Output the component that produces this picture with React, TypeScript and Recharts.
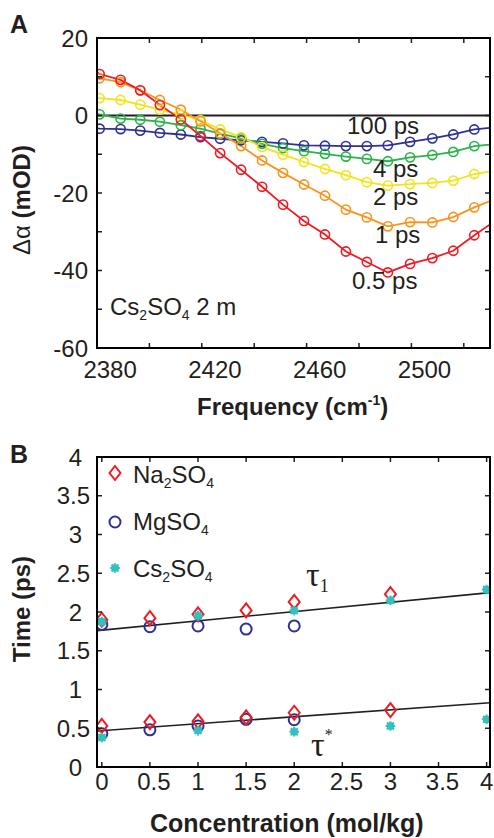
import React from 'react';
import { ComposedChart, Line, Scatter, XAxis, YAxis, ReferenceLine } from 'recharts';

const FONT = '"Liberation Sans", Arial, Helvetica, sans-serif';
const SERIF = '"Liberation Serif", "Times New Roman", serif';
const INK = '#231f20';
const TICK = 5;
// plot box size, identical for both panels
const PLOT_W = 393;
const PLOT_H = 310;

// ---- Panel A : transient spectra, Cs2SO4 2 m ----
const freqs = [2376, 2384, 2391.5, 2399, 2407, 2414.5, 2422, 2430, 2438, 2446, 2454, 2462, 2470, 2478, 2486, 2494.5, 2503, 2511, 2519];
const fitEdges = [2375, 2525];
const freqLabels = [2380, 2420, 2460, 2500];
const freqMarks = [2395, 2415, 2435, 2455, 2475, 2495, 2515];
const deltaTicks = [-60, -50, -40, -30, -20, -10, 0, 10, 20];

const ps05 = [10.7, 9.2, 6.5, 2.7, -1.0, -5.3, -9.7, -14.0, -18.4, -23.0, -27.2, -30.7, -35.1, -37.8, -40.5, -38.3, -36.8, -34.9, -30.9];
const ps1 = [9.6, 8.6, 6.5, 4.0, 1.5, -1.5, -4.6, -7.9, -11.6, -14.8, -17.8, -20.7, -24.3, -26.3, -28.6, -27.5, -27.6, -26.2, -23.7];
const ps2 = [4.5, 4.0, 2.8, 1.5, 0.2, -1.2, -3.6, -5.6, -8.1, -10.1, -12.0, -13.8, -15.4, -17.2, -18.1, -17.7, -17.4, -16.8, -15.1];
const ps4 = [0.3, -0.8, -1.1, -1.6, -2.5, -3.4, -4.7, -5.9, -7.3, -8.4, -9.2, -9.9, -10.6, -11.2, -11.8, -10.8, -10.2, -9.4, -7.9];
const ps100 = [-3.4, -3.5, -3.9, -4.5, -4.9, -5.6, -6.0, -6.4, -6.8, -7.2, -7.7, -7.8, -7.9, -7.9, -7.7, -6.8, -5.9, -4.9, -3.6];
// fit curve values at the plot edges
const edge05 = [11.2, -28.1];
const edge1 = [9.9, -22.1];
const edge2 = [4.6, -14.4];
const edge4 = [0.4, -7.5];
const edge100 = [-3.3, -3.2];

// ---- Panel B : time constants vs concentration ----
const concTicks = [0, 0.5, 1, 1.5, 2, 2.5, 3, 3.5, 4];
const timeTicks = [0, 0.5, 1, 1.5, 2, 2.5, 3, 3.5, 4];
const concNa = [0, 0.5, 1, 1.5, 2, 3];
const naTau1 = [1.9, 1.92, 1.97, 2.02, 2.13, 2.23];
const naTauStar = [0.53, 0.58, 0.59, 0.64, 0.7, 0.735];
const concMg = [0, 0.5, 1, 1.5, 2];
const mgTau1 = [1.84, 1.81, 1.82, 1.78, 1.82];
const mgTauStar = [0.43, 0.48, 0.53, 0.615, 0.61];
const concCs = [0, 1, 2, 3, 4];
const csTau1 = [1.875, 1.95, 2.02, 2.15, 2.29];
const csTauStar = [0.38, 0.47, 0.455, 0.53, 0.615];
const fitConc = [-0.05, 4.035];
const fitTau1 = [1.76, 2.25];
const fitTauStar = [0.465, 0.83];

const RED = '#ed1c24';
const ORANGE = '#f7941d';
const YELLOW = '#f3e31c';
const GREEN = '#2bb34a';
const BLUE = '#2e3192';
const TEAL = '#35c0c0';

const spectrum = (vals: number[], edges: number[]) => [
  { f: fitEdges[0], v: edges[0], fit: true },
  ...freqs.map((f, i) => ({ f, v: vals[i] })),
  { f: fitEdges[1], v: edges[1], fit: true },
];
const pts = (xs: number[], ys: number[]) => xs.map((c, i) => ({ c, t: ys[i] }));

// tick renderers (tickSize 0 so x/y sit on the axis line); they also put the
// inward marks on the opposite side of the box
const mark = { stroke: INK, strokeWidth: 1.5 };
const FreqTick = ({ x, y, payload }: any) =>
  freqLabels.includes(payload.value) ? (
    <text x={x} y={y + 30} textAnchor="middle" fontSize={24} fontFamily={FONT} fill={INK}>{payload.value}</text>
  ) : (
    <g>
      <line x1={x} x2={x} y1={y} y2={y - TICK} {...mark} />
      <line x1={x} x2={x} y1={y - PLOT_H} y2={y - PLOT_H + TICK} {...mark} />
    </g>
  );
const DeltaTick = ({ x, y, payload }: any) => (
  <g>
    <line x1={x} x2={x + TICK} y1={y} y2={y} {...mark} />
    <line x1={x + PLOT_W} x2={x + PLOT_W - TICK} y1={y} y2={y} {...mark} />
    {payload.value % 20 === 0 && (
      <text x={x - 9} y={y + 8.5} textAnchor="end" fontSize={24} fontFamily={FONT} fill={INK}>{payload.value}</text>
    )}
  </g>
);
const TimeTick = ({ x, y, payload }: any) => {
  const v = payload.value;
  return (
    <g>
      <line x1={x} x2={x + TICK} y1={y} y2={y} {...mark} />
      <line x1={x + PLOT_W} x2={x + PLOT_W - TICK} y1={y} y2={y} {...mark} />
      <text x={Number.isInteger(v) ? x - 15 : x - 7} y={y + 8.5} textAnchor="end" fontSize={24} fontFamily={FONT} fill={INK}>{v}</text>
    </g>
  );
};
const ConcTick = ({ x, y, payload }: any) => {
  const v = payload.value;
  return (
    <g>
      <line x1={x} x2={x} y1={y} y2={y - TICK} {...mark} />
      <line x1={x} x2={x} y1={y - PLOT_H} y2={y - PLOT_H + TICK} {...mark} />
      <text x={Number.isInteger(v) ? x : x + 4} y={y + 23} textAnchor="middle" fontSize={24} fontFamily={FONT} fill={INK}>{v}</text>
    </g>
  );
};

const Diamond = ({ cx, cy }: any) => (
  <path d={`M${cx},${cy - 7}L${cx + 5.5},${cy}L${cx},${cy + 7}L${cx - 5.5},${cy}Z`} fill="none" stroke={RED} strokeWidth={2} />
);
const Ring = ({ cx, cy }: any) => <circle cx={cx} cy={cy} r={5.5} fill="none" stroke={BLUE} strokeWidth={2} />;
const Star = ({ cx, cy }: any) => (
  <g>
    <circle cx={cx} cy={cy} r={3.8} fill={TEAL} />
    <path
      d={`M${cx - 4.8},${cy}H${cx + 4.8}M${cx},${cy - 4.8}V${cy + 4.8}M${cx - 3.5},${cy - 3.5}L${cx + 3.5},${cy + 3.5}M${cx - 3.5},${cy + 3.5}L${cx + 3.5},${cy - 3.5}`}
      stroke={TEAL}
      strokeWidth={2}
    />
  </g>
);

const Txt = ({ x, base, size = 24, bold = false, serif = false, children }: any) => (
  <div
    style={{
      position: 'absolute', left: x, top: base - size * 0.846, fontSize: size, lineHeight: 1,
      fontFamily: serif ? SERIF : FONT, fontWeight: bold ? 700 : 400, color: INK, whiteSpace: 'nowrap',
    }}
  >
    {children}
  </div>
);
const Sub = ({ children, size = 14, drop = 5 }: any) => (
  <span style={{ fontSize: size, position: 'relative', top: drop }}>{children}</span>
);
const VTitle = ({ cx, cy, children }: any) => (
  <div
    style={{
      position: 'absolute', left: cx, top: cy, transform: 'translate(-50%, -50%) rotate(-90deg)',
      fontSize: 24, lineHeight: 1, fontFamily: FONT, color: INK, whiteSpace: 'nowrap',
    }}
  >
    {children}
  </div>
);
// box outline around a plot area
const Frame = ({ top }: any) => (
  <div
    style={{
      position: 'absolute', left: 96, top, width: PLOT_W + 2, height: PLOT_H + 2,
      border: '2px solid #000', boxSizing: 'border-box', pointerEvents: 'none', zIndex: 5,
    }}
  />
);

const spectra = [
  { name: '100 ps', vals: ps100, edges: edge100, color: BLUE },
  { name: '4 ps', vals: ps4, edges: edge4, color: GREEN },
  { name: '2 ps', vals: ps2, edges: edge2, color: YELLOW },
  { name: '1 ps', vals: ps1, edges: edge1, color: ORANGE },
  { name: '0.5 ps', vals: ps05, edges: edge05, color: RED },
];

const axisLine = { stroke: INK, strokeWidth: 2 };

const App = () => {
  return (
    <div style={{ position: 'absolute', left: 0, top: 0, width: 494, height: 838, background: '#fff', overflow: 'hidden' }}>
      {/* Panel A */}
      <div style={{ position: 'absolute', left: 0, top: 0 }}>
        <ComposedChart width={494} height={400} margin={{ top: 38, right: 4, bottom: 0, left: 37 }}>
          <XAxis xAxisId="b" dataKey="f" type="number" domain={fitEdges} allowDataOverflow
            ticks={[...freqLabels, ...freqMarks].sort((a, b) => a - b)} interval={0}
            tick={FreqTick} tickLine={false} tickSize={0} tickMargin={0} axisLine={axisLine} height={52} />
          <YAxis yAxisId="l" type="number" domain={[-60, 20]} allowDataOverflow ticks={deltaTicks} interval={0}
            tick={DeltaTick} tickLine={false} tickSize={0} tickMargin={0} axisLine={axisLine} width={60} />
          <ReferenceLine xAxisId="b" yAxisId="l" y={0} stroke={INK} strokeWidth={1.8} />
          {spectra.map((s) => (
            <Line
              key={s.name}
              xAxisId="b"
              yAxisId="l"
              data={spectrum(s.vals, s.edges)}
              dataKey="v"
              type="linear"
              stroke={s.color}
              strokeWidth={1.8}
              isAnimationActive={false}
              dot={(p: any) =>
                p.payload.fit ? (
                  <g key={`e-${p.index}`} />
                ) : (
                  <circle key={`d-${p.index}`} cx={p.cx} cy={p.cy} r={4.6} fill="none" stroke={s.color} strokeWidth={1.6} />
                )
              }
            />
          ))}
        </ComposedChart>
      </div>
      <Frame top={37} />

      <Txt x={10} base={33} size={25} bold>A</Txt>
      <VTitle cx={22} cy={200}>
        <span>Δα </span>
        <span style={{ fontWeight: 700 }}>(mOD)</span>
      </VTitle>
      <Txt x={197} base={415} bold>
        Frequency (cm<span style={{ fontSize: 14, position: 'relative', top: -10 }}>-1</span>)
      </Txt>
      <Txt x={347} base={134}>100 ps</Txt>
      <Txt x={373} base={177}>4 ps</Txt>
      <Txt x={373} base={205}>2 ps</Txt>
      <Txt x={375} base={243}>1 ps</Txt>
      <Txt x={352} base={289}>0.5 ps</Txt>
      <Txt x={110} base={315}>
        Cs<Sub>2</Sub>SO<Sub>4</Sub> 2 m
      </Txt>

      {/* Panel B */}
      <div style={{ position: 'absolute', left: 0, top: 420 }}>
        <ComposedChart width={494} height={418} margin={{ top: 37, right: 4, bottom: 0, left: 37 }}>
          <XAxis xAxisId="b" dataKey="c" type="number" domain={fitConc} allowDataOverflow ticks={concTicks} interval={0}
            tick={ConcTick} tickLine={false} tickSize={0} tickMargin={0} axisLine={axisLine} height={71} />
          <YAxis yAxisId="l" dataKey="t" type="number" domain={[0, 4]} allowDataOverflow ticks={timeTicks} interval={0}
            tick={TimeTick} tickLine={false} tickSize={0} tickMargin={0} axisLine={axisLine} width={60} />
          <Line xAxisId="b" yAxisId="l" data={pts(fitConc, fitTau1)} dataKey="t" stroke={INK} strokeWidth={1.6} dot={false} isAnimationActive={false} />
          <Line xAxisId="b" yAxisId="l" data={pts(fitConc, fitTauStar)} dataKey="t" stroke={INK} strokeWidth={1.6} dot={false} isAnimationActive={false} />
          <Scatter xAxisId="b" yAxisId="l" data={pts(concMg, mgTau1)} shape={Ring} isAnimationActive={false} />
          <Scatter xAxisId="b" yAxisId="l" data={pts(concMg, mgTauStar)} shape={Ring} isAnimationActive={false} />
          <Scatter xAxisId="b" yAxisId="l" data={pts(concNa, naTau1)} shape={Diamond} isAnimationActive={false} />
          <Scatter xAxisId="b" yAxisId="l" data={pts(concNa, naTauStar)} shape={Diamond} isAnimationActive={false} />
          <Scatter xAxisId="b" yAxisId="l" data={pts(concCs, csTau1)} shape={Star} isAnimationActive={false} />
          <Scatter xAxisId="b" yAxisId="l" data={pts(concCs, csTauStar)} shape={Star} isAnimationActive={false} />
        </ComposedChart>
      </div>
      <Frame top={456} />

      <Txt x={10} base={463} size={25} bold>B</Txt>
      <VTitle cx={22} cy={609}>
        <span style={{ fontWeight: 700 }}>Time (ps)</span>
      </VTitle>
      <Txt x={150} base={832} size={25} bold>Concentration (mol/kg)</Txt>

      {/* legend */}
      <svg style={{ position: 'absolute', left: 100, top: 455 }} width={30} height={125}>
        <Diamond cx={15} cy={18} />
        <Ring cx={15} cy={67} />
        <Star cx={15} cy={113} />
      </svg>
      <Txt x={133} base={483}>Na<Sub>2</Sub>SO<Sub>4</Sub></Txt>
      <Txt x={133} base={530}>MgSO<Sub>4</Sub></Txt>
      <Txt x={133} base={577}>Cs<Sub>2</Sub>SO<Sub>4</Sub></Txt>

      <Txt x={306} base={587} size={34} serif>
        τ<Sub size={18} drop={6}>1</Sub>
      </Txt>
      <Txt x={311} base={757} size={34} serif>
        τ<span style={{ fontSize: 16, position: 'relative', top: -16 }}>*</span>
      </Txt>
    </div>
  );
};

export default App;
